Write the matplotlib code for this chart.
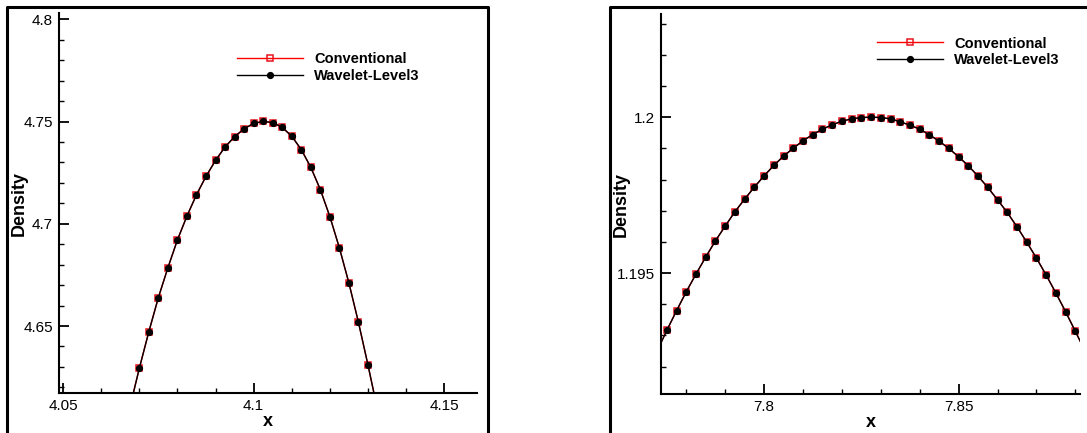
import numpy as np
import matplotlib.pyplot as plt
from matplotlib.lines import Line2D

plt.rcParams['font.family'] = ['Liberation Sans', 'DejaVu Sans']

# left window: density peak near x = 4.1
x_left = [4.0675, 4.07, 4.0725, 4.075, 4.0775, 4.08, 4.0825, 4.085, 4.0875,
          4.09, 4.0925, 4.095, 4.0975, 4.1, 4.1025, 4.105, 4.1075, 4.11,
          4.1125, 4.115, 4.1175, 4.12, 4.1225, 4.125, 4.1275, 4.13, 4.1325]
rho_conv_left = [4.6100, 4.6293, 4.6472, 4.6639, 4.6785, 4.6921, 4.7038, 4.7142,
                 4.7232, 4.7310, 4.7376, 4.7426, 4.7465, 4.7491, 4.7501, 4.7495,
                 4.7472, 4.7428, 4.7363, 4.7276, 4.7167, 4.7035, 4.6882, 4.6710,
                 4.6518, 4.6309, 4.6090]
rho_wav_left = list(rho_conv_left)

# right window: density peak near x = 7.83
x_right = [7.7725, 7.775, 7.7775, 7.78, 7.7825, 7.785, 7.7875, 7.79, 7.7925,
           7.795, 7.7975, 7.8, 7.8025, 7.805, 7.8075, 7.81, 7.8125, 7.815,
           7.8175, 7.82, 7.8225, 7.825, 7.8275, 7.83, 7.8325, 7.835, 7.8375,
           7.84, 7.8425, 7.845, 7.8475, 7.85, 7.8525, 7.855, 7.8575, 7.86,
           7.8625, 7.865, 7.8675, 7.87, 7.8725, 7.875, 7.8775, 7.88, 7.8825]
rho_conv_right = [1.192500, 1.193162, 1.193793, 1.194402, 1.194968, 1.195513,
                  1.196036, 1.196506, 1.196966, 1.197372, 1.197756, 1.198120,
                  1.198451, 1.198750, 1.199006, 1.199241, 1.199444, 1.199615,
                  1.199754, 1.199872, 1.199947, 1.199989, 1.200000, 1.199989,
                  1.199947, 1.199850, 1.199744, 1.199615, 1.199434, 1.199231,
                  1.198996, 1.198729, 1.198440, 1.198109, 1.197746, 1.197350,
                  1.196944, 1.196485, 1.195994, 1.195481, 1.194936, 1.194359,
                  1.193761, 1.193130, 1.192500]
rho_wav_right = list(rho_conv_right)

W, H = 1087, 433
fig = plt.figure(figsize=(W / 100, H / 100), dpi=100)


def px_box(x0, y0, x1, y1):
    return [x0 / W, 1 - y1 / H, (x1 - x0) / W, (y1 - y0) / H]


def panel(rect, x, conv, wav, xlim, ylim, xmaj, ymaj, xmin, ymin, leg_xy):
    ax = fig.add_axes(rect)
    ax.plot(x, conv, color='red', lw=1.0, marker='s', ms=4.8, mfc='none',
            mec='#e8141c', mew=1.1, markevery=slice(1, -1), label='Conventional', zorder=2)
    ax.plot(x, wav, color='black', lw=1.0, marker='o', ms=4.2, mfc='black',
            mec='black', markevery=slice(1, -1), label='Wavelet-Level3', zorder=3)
    ax.set_xlim(*xlim)
    ax.set_ylim(*ylim)
    ax.set_xticks(xmaj)
    ax.set_yticks(ymaj)
    ax.set_xticks(xmin, minor=True)
    ax.set_yticks(ymin, minor=True)
    ax.set_xticklabels([f'{v:g}' for v in xmaj])
    ax.set_yticklabels([f'{v:g}' for v in ymaj])
    ax.spines['top'].set_visible(False)
    ax.spines['right'].set_visible(False)
    for s in ('left', 'bottom'):
        ax.spines[s].set_linewidth(1.5)
    ax.tick_params(which='major', direction='in', length=7, width=1.3,
                   labelsize=11, pad=4)
    ax.tick_params(which='minor', direction='in', length=3.6, width=1.0)
    ax.set_xlabel('x', fontsize=13, fontweight='bold')
    ax.set_ylabel('Density', fontsize=13, fontweight='bold')
    ax.xaxis.label.set_va('center')
    ax.yaxis.label.set_va('center')
    ax.xaxis.set_label_coords(0.5, -0.075)
    ax.yaxis.set_label_coords(-0.094, 0.5)
    ax.legend(loc='upper left', bbox_to_anchor=(leg_xy[0] / W, 1 - leg_xy[1] / H),
              bbox_transform=fig.transFigure, frameon=False, borderpad=0,
              handlelength=4.5, handletextpad=0.8, labelspacing=0.18,
              borderaxespad=0, prop={'weight': 'bold', 'size': 10.5})
    return ax


panel(px_box(58.5, 13, 477, 393.3), x_left, rho_conv_left, rho_wav_left,
      (4.0488, 4.1586), (4.6171, 4.8031),
      [4.05, 4.1, 4.15], [4.65, 4.7, 4.75, 4.8],
      np.arange(4.05, 4.1551, 0.01), np.arange(4.62, 4.8001, 0.01),
      (237, 52))

panel(px_box(661, 14, 1080, 394), x_right, rho_conv_right, rho_wav_right,
      (7.7735, 7.8812), (1.19112, 1.20331),
      [7.8, 7.85], [1.195, 1.2],
      np.arange(7.78, 7.8801, 0.01), np.arange(1.192, 1.2031, 0.001),
      (877, 36.5))

# outer frames round each panel
frame = dict(color='black', lw=2.2, transform=fig.transFigure)
fig.add_artist(Line2D([6.5 / W, 6.5 / W, 488 / W, 488 / W],
                      [0, 1 - 7 / H, 1 - 7 / H, 0], **frame))
fig.add_artist(Line2D([610 / W, 610 / W, 1], [0, 1 - 7 / H, 1 - 7 / H], **frame))

fig.savefig('out.png', dpi=100)
